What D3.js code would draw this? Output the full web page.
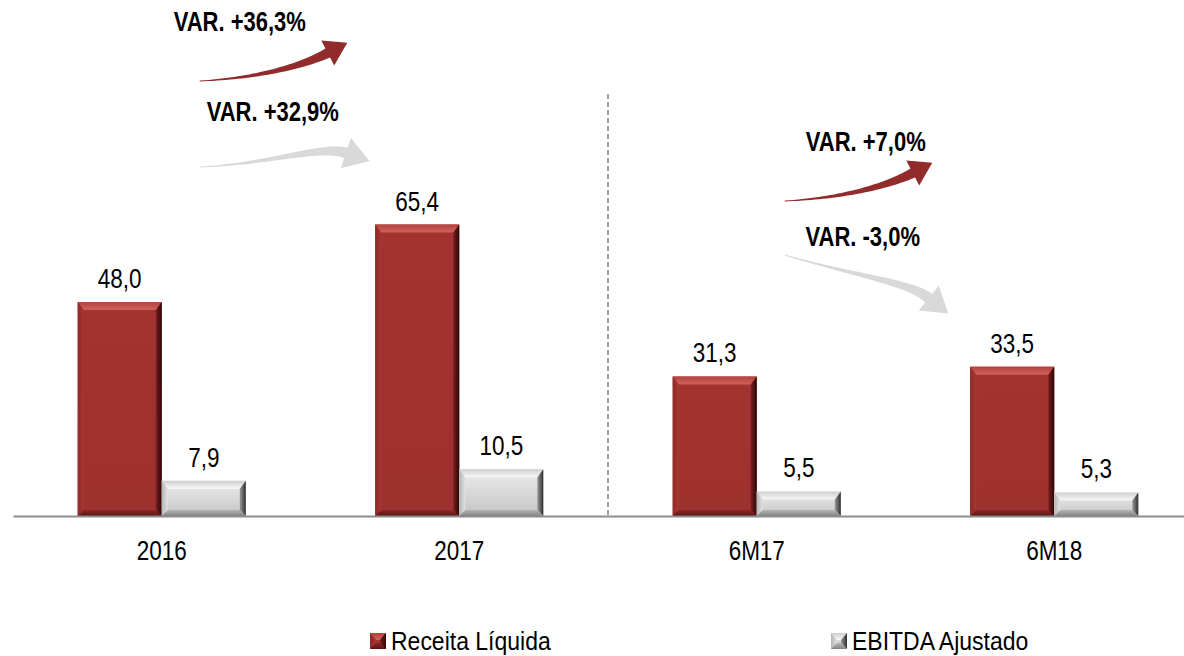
<!DOCTYPE html>
<html>
<head>
<meta charset="utf-8">
<script src="https://cdn.jsdelivr.net/npm/d3@7"></script>
<style>
  body { margin: 0; background: #fff; }
  svg { display: block; font-family: "Liberation Sans", Arial, sans-serif; }
</style>
</head>
<body>
<svg id="chart" width="1184" height="656"></svg>
<script>
// data
var categories = ['2016', '2017', '6M17', '6M18'];
var seriesKeys = ['receita', 'ebitda'];
var seriesNames = ['Receita Líquida', 'EBITDA Ajustado'];
var receita = [48.0, 65.4, 31.3, 33.5];
var ebitda = [7.9, 10.5, 5.5, 5.3];
var valueLabels = {
  receita: ['48,0', '65,4', '31,3', '33,5'],
  ebitda: ['7,9', '10,5', '5,5', '5,3']
};
var varLabels = ['VAR. +36,3%', 'VAR. +32,9%', 'VAR. +7,0%', 'VAR. -3,0%'];
var varFrom = ['2016', '2016', '6M17', '6M17'];
var varSeries = ['receita', 'ebitda', 'receita', 'ebitda'];

// annotation layout (offsets from the start category centre)
var varLayout = [
  { dx: 78, ly: 31, pts: [[38, 81], [98, 78], [143, 65], [166, 53]] },
  { dx: 111, ly: 121, pts: [[38, 167], [108, 164], [160, 145], [184, 153]] },
  { dx: 109, ly: 151, pts: [[28, 201], [88, 198], [133, 185], [156, 173]] },
  { dx: 106, ly: 246, pts: [[28, 255], [95, 275], [152, 282], [172, 298]] }
];

var svg = d3.select('#chart');
var defs = svg.append('defs');
var stretch = 1.25; // the reference text is drawn taller than wide

var xScale = d3.scaleBand()
  .domain(categories)
  .range([13, 1203])
  .paddingInner(0.435)
  .paddingOuter(0.2175);
var xSub = d3.scaleBand()
  .domain(seriesKeys)
  .range([0, xScale.bandwidth()]);
var yScale = d3.scaleLinear()
  .domain([0, 70])
  .range([516, 204]);

// gradients for bevels
var palettes = {
  receita: {
    face: ['#a33331', '#9e302e'],
    top: ['#b3423f', '#d0625d'],
    left: ['#8e2927', '#a83634'],
    right: ['#7a201f', '#2a0707'],
    bottom: ['#8a2826', '#5a1515']
  },
  ebitda: {
    face: ['#ededed', '#c4c4c4'],
    top: ['#cfcfcf', '#f8f8f8'],
    left: ['#b5b5b5', '#e2e2e2'],
    right: ['#9a9a9a', '#2e2e2e'],
    bottom: ['#b5b5b5', '#828282']
  }
};
var dirs = {
  face: [0, 0, 0, 1],
  top: [0, 0, 0, 1],
  left: [0, 0, 1, 0],
  right: [0, 0, 1, 0],
  bottom: [0, 0, 0, 1]
};
Object.keys(palettes).forEach(function (k) {
  Object.keys(dirs).forEach(function (part) {
    var d = dirs[part];
    var grad = defs.append('linearGradient')
      .attr('id', 'g-' + k + '-' + part)
      .attr('x1', d[0]).attr('y1', d[1]).attr('x2', d[2]).attr('y2', d[3]);
    grad.append('stop').attr('offset', '0%').attr('stop-color', palettes[k][part][0]);
    grad.append('stop').attr('offset', '100%').attr('stop-color', palettes[k][part][1]);
  });
});

function bevel(g, key, x, y, w, h, bs, bt, bb) {
  var pt = function (p) { return p.join(','); };
  g.append('rect').attr('x', x).attr('y', y).attr('width', w).attr('height', h)
    .attr('fill', 'url(#g-' + key + '-face)');
  var polys = {
    top: [[x, y], [x + w, y], [x + w - bs, y + bt], [x + bs, y + bt]],
    left: [[x, y], [x + bs, y + bt], [x + bs, y + h - bb], [x, y + h]],
    right: [[x + w, y], [x + w, y + h], [x + w - bs, y + h - bb], [x + w - bs, y + bt]],
    bottom: [[x, y + h], [x + bs, y + h - bb], [x + w - bs, y + h - bb], [x + w, y + h]]
  };
  Object.keys(polys).forEach(function (part) {
    g.append('polygon')
      .attr('points', polys[part].map(pt).join(' '))
      .attr('fill', 'url(#g-' + key + '-' + part + ')');
  });
}

function tallText(g, x, y, size, str, anchor, weight, s) {
  return g.append('text')
    .attr('transform', 'translate(' + x + ',' + y + ') scale(1,' + (s || stretch) + ')')
    .attr('text-anchor', anchor)
    .attr('font-size', size + 'px')
    .attr('font-weight', weight || 'normal')
    .attr('fill', '#000')
    .text(str);
}

// divider
var midX = (xScale('2017') + xScale.bandwidth() + xScale('6M17')) / 2;
svg.append('line')
  .attr('x1', midX).attr('x2', midX)
  .attr('y1', 94).attr('y2', yScale(0))
  .attr('stroke', '#808080')
  .attr('stroke-width', 1.5)
  .attr('stroke-dasharray', '5,3');

// bars
var values = { receita: receita, ebitda: ebitda };
var barsG = svg.append('g');
categories.forEach(function (c, i) {
  seriesKeys.forEach(function (k) {
    var v = values[k][i];
    var x = xScale(c) + xSub(k);
    var y = yScale(v);
    var h = yScale(0) - y;
    bevel(barsG, k, x, y, xSub.bandwidth(), h, 6, 8, 6);
    tallText(barsG, x + xSub.bandwidth() / 2, y - 14, 22.5, valueLabels[k][i], 'middle');
  });
});

// x axis
var xAxis = d3.axisBottom(xScale).tickSize(0);
var axisG = svg.append('g')
  .attr('transform', 'translate(0,' + yScale(0) + ')')
  .call(xAxis);
axisG.select('.domain').attr('stroke', '#8c8c8c').attr('stroke-width', 2);
axisG.selectAll('text')
  .attr('y', 0)
  .attr('dy', 0)
  .attr('transform', 'translate(0,44) scale(1,' + stretch + ')')
  .attr('font-size', '22.5px')
  .attr('font-family', '"Liberation Sans", Arial, sans-serif')
  .attr('fill', '#000');

// variation arrows
function arrowPath(pts, w0, w1, hl, hw) {
  var p0 = pts[0], c1 = pts[1], c2 = pts[2], p1 = pts[3];
  var n = 40, left = [], right = [];
  function at(t) {
    var u = 1 - t;
    return [
      u * u * u * p0[0] + 3 * u * u * t * c1[0] + 3 * u * t * t * c2[0] + t * t * t * p1[0],
      u * u * u * p0[1] + 3 * u * u * t * c1[1] + 3 * u * t * t * c2[1] + t * t * t * p1[1]
    ];
  }
  function tan(t) {
    var u = 1 - t;
    var dx = 3 * u * u * (c1[0] - p0[0]) + 6 * u * t * (c2[0] - c1[0]) + 3 * t * t * (p1[0] - c2[0]);
    var dy = 3 * u * u * (c1[1] - p0[1]) + 6 * u * t * (c2[1] - c1[1]) + 3 * t * t * (p1[1] - c2[1]);
    var l = Math.sqrt(dx * dx + dy * dy);
    return [dx / l, dy / l];
  }
  for (var i = 0; i <= n; i++) {
    var t = i / n;
    var p = at(t), d = tan(t);
    var w = (w0 + (w1 - w0) * Math.pow(t, 1.2)) / 2;
    left.push([p[0] + d[1] * w, p[1] - d[0] * w]);
    right.push([p[0] - d[1] * w, p[1] + d[0] * w]);
  }
  var te = tan(1);
  var head = [
    [p1[0] + te[1] * hw, p1[1] - te[0] * hw],
    [p1[0] + te[0] * hl, p1[1] + te[1] * hl],
    [p1[0] - te[1] * hw, p1[1] + te[0] * hw]
  ];
  var all = left.concat(head).concat(right.reverse());
  return 'M' + all.map(function (q) { return q[0].toFixed(1) + ',' + q[1].toFixed(1); }).join('L') + 'Z';
}

var arrowColors = { receita: '#922b2b', ebitda: '#d9d9d9' };
var arrowSize = { receita: [10, 22, 14], ebitda: [11, 25, 16] };
var annG = svg.append('g');
varLabels.forEach(function (label, i) {
  var c0 = xScale(varFrom[i]) + xScale.bandwidth() / 2;
  var lay = varLayout[i];
  var sz = arrowSize[varSeries[i]];
  var pts = lay.pts.map(function (p) { return [c0 + p[0], p[1]]; });
  annG.append('path')
    .attr('d', arrowPath(pts, 1, sz[0], sz[1], sz[2]))
    .attr('fill', arrowColors[varSeries[i]]);
  tallText(annG, c0 + lay.dx, lay.ly, 22, label, 'middle', 'bold');
});

// legend
var legendX = [370, 831];
var legend = svg.append('g');
seriesKeys.forEach(function (k, i) {
  bevel(legend, k, legendX[i], 633, 16, 16, 6, 7, 6);
  tallText(legend, legendX[i] + 21, 650, 23, seriesNames[i], 'start', 'normal', 1.15);
});
</script>
</body>
</html>
